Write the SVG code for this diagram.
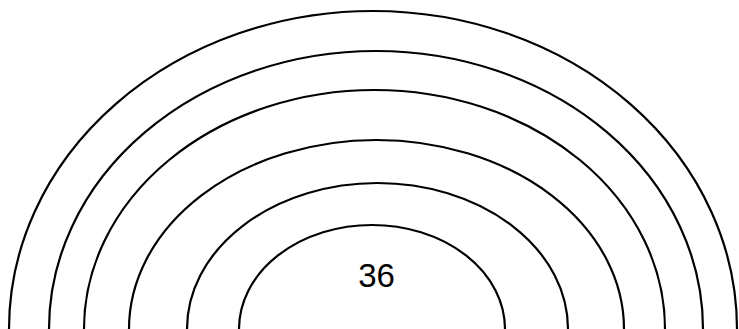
<svg xmlns="http://www.w3.org/2000/svg" width="739" height="329" viewBox="0 0 739 329">
<style>
.arc{fill:none;stroke:#000;stroke-width:2.2}
.lbl{font-family:"Liberation Sans","Open Sans",sans-serif;font-size:33px;fill:#000;text-anchor:middle}
</style>
<rect width="739" height="329" fill="#fff"/>
<g id="arches">
<path id="arc1" class="arc" d="M9 329 A364 318 0 0 1 737 329"/>
<path id="arc2" class="arc" d="M49 329 A327 278 0 0 1 703 329"/>
<path id="arc3" class="arc" d="M84 329 A290.5 239 0 0 1 665 329"/>
<path id="arc4" class="arc" d="M129 329 A247.5 189 0 0 1 624 329"/>
<path id="arc5" class="arc" d="M187 329 A190.5 146 0 0 1 568 329"/>
<path id="arc6" class="arc" d="M239 329 A133 104 0 0 1 505 329"/>
</g>
<g id="label">
<text class="lbl" x="376.5" y="287">36</text>
</g>
</svg>
